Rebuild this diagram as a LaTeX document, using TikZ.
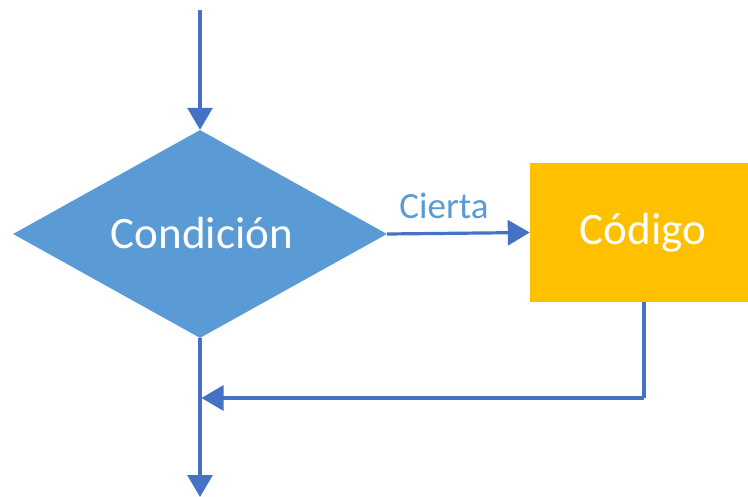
\documentclass[tikz,border=0pt]{standalone}
\usepackage{fontspec}
\setmainfont{Carlito}
\usetikzlibrary{arrows.meta,shapes.geometric}
\definecolor{lineblue}{HTML}{4472C4}
\definecolor{diamondblue}{HTML}{5B9BD5}
\definecolor{codeyellow}{HTML}{FFC000}
\begin{document}
\begin{tikzpicture}[x=1pt,y=-1pt,
  flow/.style={draw=lineblue,line width=3.2pt,
    -{Triangle[length=22pt,width=25pt,fill=lineblue]}},
  plain/.style={draw=lineblue,line width=3.2pt},
  bigtext/.style={text=white,font=\fontsize{45}{52}\selectfont},
  decision/.style={diamond,fill=diamondblue,minimum width=374pt,minimum height=208pt,inner sep=0pt},
  process/.style={rectangle,fill=codeyellow,minimum width=230pt,minimum height=139pt,inner sep=0pt}]
\useasboundingbox (0,0) rectangle (748,497);
\clip (0,0) rectangle (748,497);

\node[decision] (cond) at (200,234) {};
\node[bigtext] (condtxt) at (202,233) {Condición};
\node[process] (code) at (645,232.5) {};
\node[bigtext] (codetxt) at (643,232.5) {Código};

\coordinate (start) at (200,10);
\coordinate (joinpt) at (200,398);
\coordinate (corner) at (644,398);
\coordinate (endpt) at (200,497);

\draw[flow] (start) -- (cond.north);
\draw[flow] (cond.east) -- (code.west);
\node[text=diamondblue,font=\fontsize{37}{42}\selectfont,anchor=base] (lbl) at (444,219) {Cierta};
\draw[plain] (code.south -| corner) -- (corner);
\draw[flow] (corner) -- ([xshift=1.5pt]joinpt);
\draw[flow] (cond.south) -- (endpt);
\end{tikzpicture}
\end{document}
